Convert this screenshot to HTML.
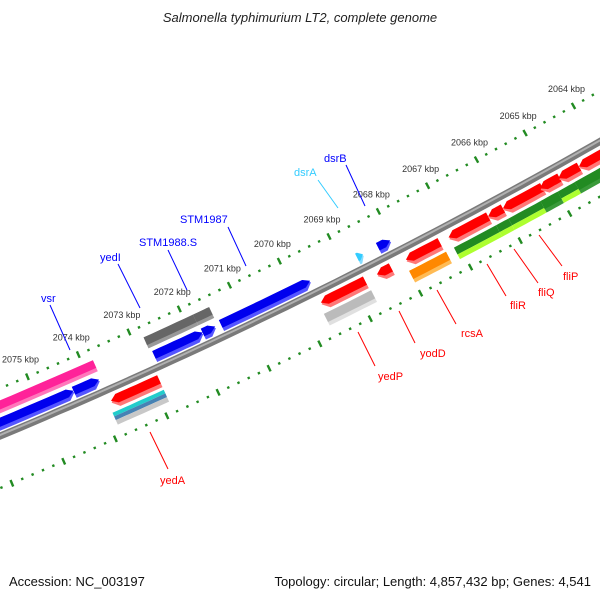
<!DOCTYPE html>
<html><head><meta charset="utf-8"><style>
html,body{margin:0;padding:0;background:#fff;}
svg{display:block;font-family:"Liberation Sans",sans-serif;}
</style></head><body>
<svg id="map" width="600" height="600" viewBox="0 0 600 600" xmlns="http://www.w3.org/2000/svg">
<rect width="600" height="600" fill="#fff"/>
<text x="300" y="22" text-anchor="middle" font-size="13" font-style="italic" fill="#222">Salmonella typhimurium LT2, complete genome</text>
<g id="rings"></g>
<g id="backbone"></g>
<g id="genes"></g>
<g id="labels">
<g stroke-width="1">
<line x1="150" y1="432" x2="168" y2="469" stroke="#f00"/>
<line x1="358" y1="332" x2="375" y2="366" stroke="#f00"/>
<line x1="399" y1="311" x2="415" y2="343" stroke="#f00"/>
<line x1="437" y1="290" x2="456" y2="324" stroke="#f00"/>
<line x1="487" y1="264" x2="506" y2="296" stroke="#f00"/>
<line x1="514" y1="249" x2="538" y2="283" stroke="#f00"/>
<line x1="539" y1="235" x2="562" y2="266" stroke="#f00"/>
<line x1="50" y1="305" x2="70" y2="350" stroke="#00f"/>
<line x1="118" y1="264" x2="140" y2="308" stroke="#00f"/>
<line x1="168" y1="250" x2="187" y2="290" stroke="#00f"/>
<line x1="228" y1="227" x2="246" y2="266" stroke="#00f"/>
<line x1="318" y1="180" x2="338" y2="208" stroke="#3cf"/>
<line x1="346" y1="165" x2="365" y2="206" stroke="#00f"/>
</g>
<g font-size="11">
<text x="160" y="484" fill="#f00">yedA</text>
<text x="378" y="380" fill="#f00">yedP</text>
<text x="420" y="357" fill="#f00">yodD</text>
<text x="461" y="337" fill="#f00">rcsA</text>
<text x="510" y="309" fill="#f00">fliR</text>
<text x="538" y="296" fill="#f00">fliQ</text>
<text x="563" y="280" fill="#f00">fliP</text>
<text x="41" y="302" fill="#00f">vsr</text>
<text x="100" y="261" fill="#00f">yedI</text>
<text x="139" y="246" fill="#00f">STM1988.S</text>
<text x="180" y="223" fill="#00f">STM1987</text>
<text x="294" y="176" fill="#3cf">dsrA</text>
<text x="324" y="162" fill="#00f">dsrB</text>
</g>
</g>
<text x="9" y="586" font-size="13" fill="#111">Accession: NC_003197</text>
<text x="591" y="586" font-size="13" fill="#111" text-anchor="end">Topology: circular; Length: 4,857,432 bp; Genes: 4,541</text>
</svg>
<script>
var geneStart = [2074.34,2073.84,2071.80,2071.55,2069.66,2068.60,2068.05,2073.80,2071.82,2071.50,2072.86,2068.78,2068.26,2067.28,2066.30,2066.00,2065.20,2064.85,2064.45,2063.50,2072.86,2068.76,2067.26,2066.25,2066.00,2065.35,2065.00,2064.65,2063.40];
var geneEnd   = [2076.60,2074.34,2072.76,2071.80,2071.44,2068.72,2068.30,2077.00,2072.80,2071.82,2073.80,2069.66,2068.54,2067.96,2067.10,2066.30,2066.00,2065.25,2064.87,2064.45,2073.86,2069.70,2068.00,2067.10,2066.25,2066.00,2065.35,2065.00,2064.65];
var geneRow   = ["A","A","A","A","A","A","A","B","B","B","C","C","C","C","C","C","C","C","C","C","D","D","D","D","D","D","D","D","D"];
var geneArrow = ["lo","lo","lo","lo","lo","lo","lo","","","","hi","hi","hi","hi","hi","hi","hi","hi","hi","hi","","","","","","","","",""];
var geneKind  = ["blue","blue","blue","blue","blue","cyan","blue","pink","gray","gray","red","red","red","red","red","red","red","red","red","red","stack","lgray","orange","greenlime","greenlime","greenlime","green","greenlime","green"];
var majorTicks = [2063,2064,2065,2066,2067,2068,2069,2070,2071,2072,2073,2074,2075,2076,2077];
var tickLabels = ["","2064 kbp","2065 kbp","2066 kbp","2067 kbp","2068 kbp","2069 kbp","2070 kbp","2071 kbp","2072 kbp","2073 kbp","2074 kbp","2075 kbp","",""];

var NS="http://www.w3.org/2000/svg";
var CX=-2150, CY=-4700, R0=5568;
function ang(k){return (63.91+(k-2070)*0.575)*Math.PI/180;}
function pt(k,off){var a=ang(k),r=R0+off;return [CX+r*Math.cos(a),CY+r*Math.sin(a)];}
function el(tag,attrs,parent){var e=document.createElementNS(NS,tag);for(var k in attrs)e.setAttribute(k,attrs[k]);parent.appendChild(e);return e;}
var rows={A:[-17,-5],B:[-33,-21],C:[7,20],D:[23,36]};
var colors={blue:["#0000ee","#5555ff"],cyan:["#33ccff","#88ddff"],pink:["#ff2299","#ff77bb"],gray:["#666","#999"],red:["#ff0000","#ff7777"],lgray:["#bbb","#e0e0e0"],orange:["#ff8800","#ffbb55"],green:["#228b22","#3a9a3a"]};

function shape(s,e,r1,r2,arrow){
  var h=0.12, L=e-s; if(h>L*0.7)h=L*0.7;
  var p=[],i,n=6,a0=s,a1=e;
  if(arrow==="lo")a0=s+h; if(arrow==="hi")a1=e-h;
  for(i=0;i<=n;i++)p.push(pt(a0+(a1-a0)*i/n,r1));
  if(arrow==="hi")p.push(pt(e,(r1+r2)/2));
  for(i=n;i>=0;i--)p.push(pt(a0+(a1-a0)*i/n,r2));
  if(arrow==="lo")p.push(pt(s,(r1+r2)/2));
  return p.map(function(q){return q[0].toFixed(1)+","+q[1].toFixed(1);}).join(" ");
}

(function(){
  var g=document.getElementById("backbone");
  var d=[];for(var k=2077;k>=2063;k-=0.25){var q=pt(k,0);d.push(q[0].toFixed(1)+","+q[1].toFixed(1));}
  var a=el("polyline",{points:d.join(" "),fill:"none",stroke:"#7a7a7a","stroke-width":"7"},g);
  
  
  var d2=[];for(k=2077;k>=2063;k-=0.25){q=pt(k,-1);d2.push(q[0].toFixed(1)+","+q[1].toFixed(1));}
  var b=el("polyline",{points:d2.join(" "),fill:"none",stroke:"#b0b0b0","stroke-width":"2"},g);
  
  
})();

(function(){
  var g=document.getElementById("rings");
  [-44,48].forEach(function(off){
    for(var m=20630;m<=20770;m+=2){
      var k=m/10, major=(m%10===0);
      var half=major?3.5:1.2;
      var p1=pt(k,off-half),p2=pt(k,off+half);
      var t=el("line",{x1:p1[0].toFixed(1),y1:p1[1].toFixed(1),x2:p2[0].toFixed(1),y2:p2[1].toFixed(1),stroke:"#228b22","stroke-width":"2.4"},g);
      
      
    }
  });
  majorTicks.forEach(function(k,i){
    if(!tickLabels[i])return;
    var p=pt(k,-44);
    var t=el("text",{x:(p[0]-7).toFixed(1),y:(p[1]-14).toFixed(1),"text-anchor":"middle","font-size":"9",fill:"#333"},g);
    t.textContent=tickLabels[i];
    
    
  });
})();

(function(){
  var g=document.getElementById("genes");
  for(var i=0;i<geneStart.length;i++){
    var s=geneStart[i],e=geneEnd[i],r=rows[geneRow[i]],ar=geneArrow[i],kind=geneKind[i];
    var grp=el("g",{},g);
    
    
    var r1=r[0],r2=r[1],w=r2-r1;
    if(kind==="stack"){
      el("polygon",{points:shape(s,e,r1,r1+4,""),fill:"#22cccc"},grp);
      el("polygon",{points:shape(s,e,r1+4,r1+8,""),fill:"#4682b4"},grp);
      el("polygon",{points:shape(s,e,r1+8,r2,""),fill:"#c8c8c8"},grp);
    } else if(kind==="greenlime"){
      el("polygon",{points:shape(s,e,r1,r1+w*0.6,""),fill:"#228b22"},grp);
      el("polygon",{points:shape(s,e,r1+w*0.6,r2,""),fill:"#adff2f"},grp);
    } else {
      var c=colors[kind];
      el("polygon",{points:shape(s,e,r1,r2,ar),fill:c[1]},grp);
      el("polygon",{points:shape(s,e,r1,r1+w*0.7,ar),fill:c[0]},grp);
    }
  }
})();
</script>
</body></html>
